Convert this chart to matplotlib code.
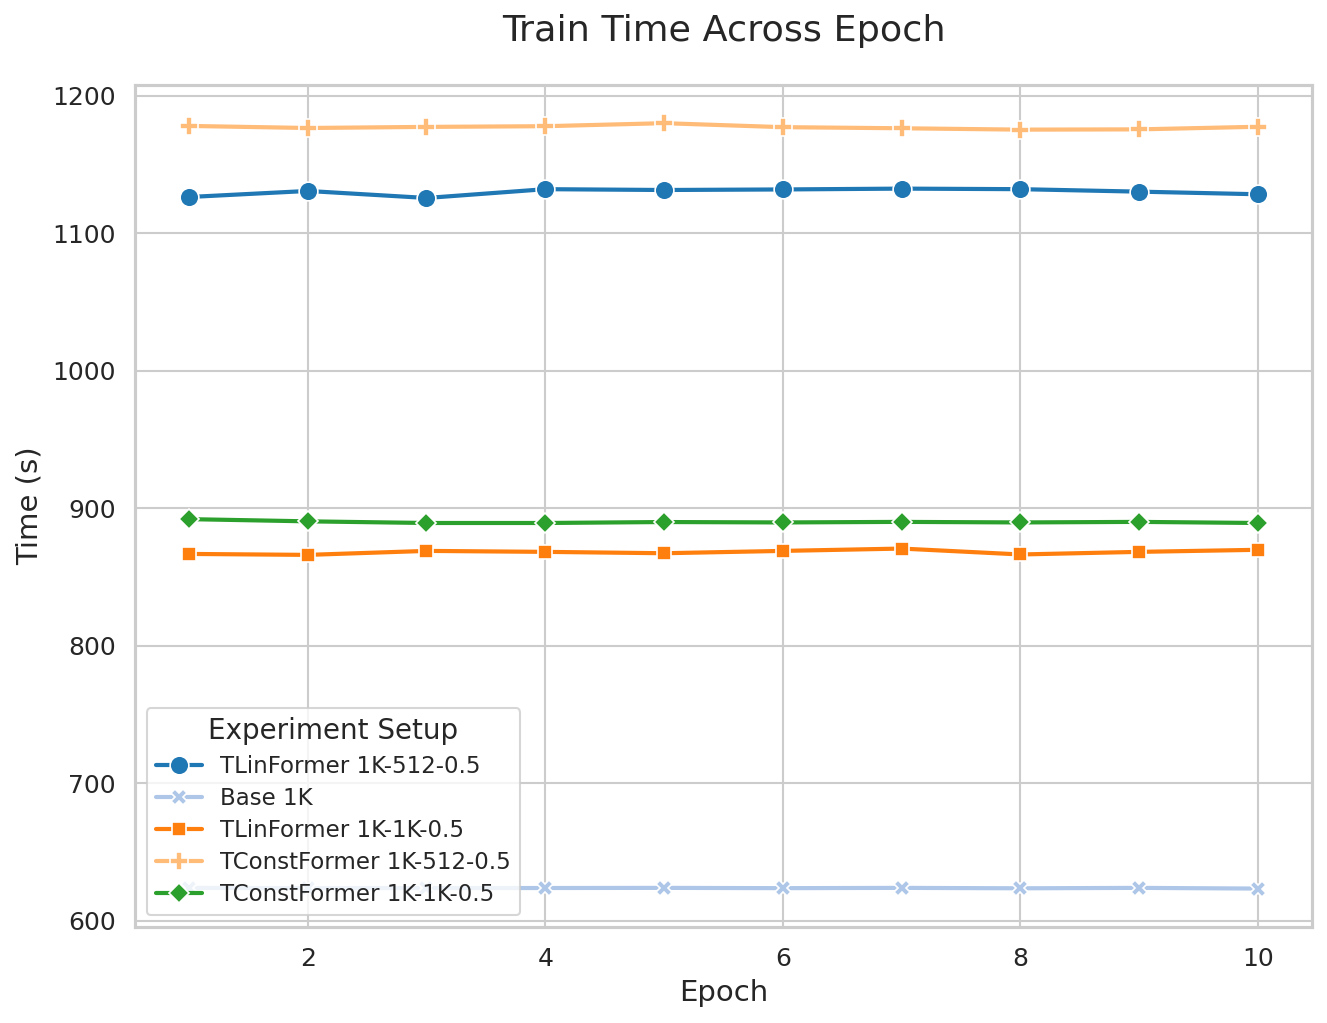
import matplotlib
matplotlib.use("Agg")
import matplotlib.pyplot as plt
import seaborn as sns

epochs = [1, 2, 3, 4, 5, 6, 7, 8, 9, 10]

tlin_1k_512 = [1126.5, 1130.9, 1125.8, 1132.2, 1131.6, 1132.0, 1132.6, 1132.2, 1130.4, 1128.5]
base_1k = [624.0, 623.8, 623.9, 623.9, 624.0, 623.8, 624.0, 623.7, 624.0, 623.5]
tlin_1k_1k = [866.9, 866.2, 869.1, 868.4, 867.4, 869.1, 870.8, 866.5, 868.4, 869.9]
tconst_1k_512 = [1178.2, 1176.7, 1177.5, 1178.0, 1180.2, 1177.3, 1176.5, 1175.5, 1175.7, 1177.6]
tconst_1k_1k = [892.2, 890.6, 889.4, 889.4, 890.1, 889.8, 890.2, 889.8, 890.2, 889.4]

labels = ["TLinFormer 1K-512-0.5", "Base 1K", "TLinFormer 1K-1K-0.5",
          "TConstFormer 1K-512-0.5", "TConstFormer 1K-1K-0.5"]
series = [tlin_1k_512, base_1k, tlin_1k_1k, tconst_1k_512, tconst_1k_1k]
colors = ["#1f77b4", "#aec7e8", "#ff7f0e", "#ffbb78", "#2ca02c"]
markers = ["o", "X", "s", "P", "D"]
msizes = [9, 8, 7, 9, 6.5]

sns.set_theme(style="whitegrid")

fig, ax = plt.subplots(figsize=(8.85, 6.82), dpi=150)
for lab, vals, c, m, ms in zip(labels, series, colors, markers, msizes):
    ax.plot(epochs, vals, label=lab, color=c, marker=m, markersize=ms,
            markeredgecolor="white", markeredgewidth=0.8, linewidth=2)

ax.set_title("Train Time Across Epoch", fontsize=17.5, pad=21)
ax.set_xlabel("Epoch", fontsize=14)
ax.set_ylabel("Time (s)", fontsize=14)
ax.tick_params(labelsize=12)
for s in ax.spines.values():
    s.set_color("#cccccc")
    s.set_linewidth(1.5)
ax.legend(title="Experiment Setup", loc="lower left", fontsize=11, title_fontsize=13.3,
          labelspacing=0.4)

fig.subplots_adjust(left=0.102, right=0.988, top=0.917, bottom=0.094)
fig.savefig("out.png", dpi=150)
